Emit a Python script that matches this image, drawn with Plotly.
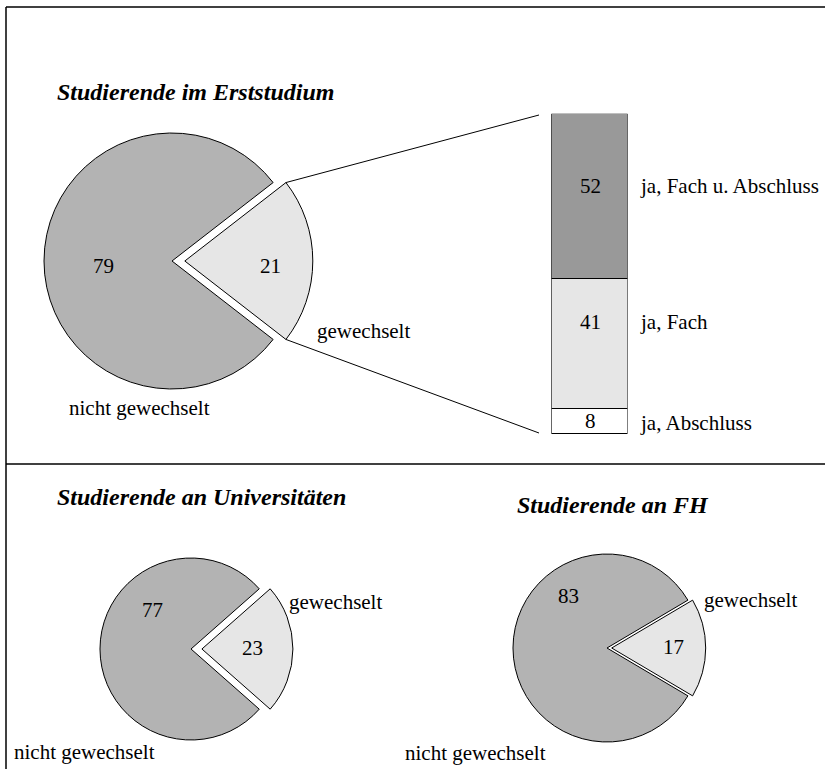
import math
import plotly.graph_objects as go

W, H = 825, 769

# ---- data ----
pie_labels = ["gewechselt", "nicht gewechselt"]
erst_values = [21, 79]
uni_values = [23, 77]
fh_values = [17, 83]

bar_labels = ["ja, Abschluss", "ja, Fach", "ja, Fach u. Abschluss"]
bar_values = [8, 41, 52]

titles = ["Studierende im Erststudium", "Studierende an Universitäten", "Studierende an FH"]

# ---- styles ----
FONT = "Liberation Serif"
C_BIG = "#b3b3b3"
C_SMALL = "#e6e6e6"
BAR_COLORS = ["#ffffff", "#e6e6e6", "#999999"]


def px(x):
    return x / W


def py(y):
    return 1 - y / H


def pie_domain(cx, cy, r, pull):
    half = r * (1 + pull)
    return dict(x=[px(cx - half), px(cx + half)], y=[py(cy + half), py(cy - half)])


def make_pie(values, cx, cy, r, pull):
    share = values[0] / sum(values)
    rot = 90 - share * 360 / 2
    return go.Pie(
        labels=pie_labels, values=values, sort=False, direction="clockwise",
        rotation=rot, pull=[pull, 0],
        marker=dict(colors=[C_SMALL, C_BIG], line=dict(color="black", width=1)),
        textinfo="none", showlegend=False, domain=pie_domain(cx, cy, r, pull),
        hoverinfo="label+value",
    )


fig = go.Figure()

# pies (center x, center y, radius, pull)
P_TOP = (172, 261, 128, 0.10)
P_UNI = (191, 649, 91, 0.12)
P_FH = (607, 648, 94, 0.05)
fig.add_trace(make_pie(erst_values, *P_TOP))
fig.add_trace(make_pie(uni_values, *P_UNI))
fig.add_trace(make_pie(fh_values, *P_FH))

# stacked bar
for lab, val, col in zip(bar_labels, bar_values, BAR_COLORS):
    fig.add_trace(go.Bar(
        x=[0], y=[val], name=lab, width=1,
        marker=dict(color=col, line=dict(color="black", width=1)),
        showlegend=False, hoverinfo="name+y",
    ))

BAR_L, BAR_R, BAR_T, BAR_B = 551.4, 627.5, 113.7, 434
fig.update_layout(
    barmode="stack",
    xaxis=dict(domain=[px(BAR_L), px(BAR_R)], range=[-0.5, 0.5], visible=False, fixedrange=True),
    yaxis=dict(domain=[py(BAR_B), py(BAR_T)], range=[0, sum(bar_values)], visible=False, fixedrange=True),
)

annotations = []


def txt(t, x, y, size=21, xanchor="center", **kw):
    annotations.append(dict(
        text=t, x=px(x), y=py(y), xref="paper", yref="paper", showarrow=False,
        xanchor=xanchor, yanchor="middle", font=dict(family=FONT, size=size, color="black"), **kw))


# titles
txt("<b><i>" + titles[0] + "</i></b>", 55, 92, size=24, xanchor="left")
txt("<b><i>" + titles[1] + "</i></b>", 55, 497, size=24, xanchor="left")
txt("<b><i>" + titles[2] + "</i></b>", 515, 505, size=24, xanchor="left")

# top pie labels
txt(str(erst_values[1]), 103, 266)
txt(str(erst_values[0]), 270, 266)
txt(pie_labels[0], 363, 331)
txt(pie_labels[1], 139, 408)

# uni pie labels
txt(str(uni_values[1]), 152, 610)
txt(str(uni_values[0]), 252, 648)
txt(pie_labels[0], 335, 602)
txt(pie_labels[1], 84, 752)

# fh pie labels
txt(str(fh_values[1]), 568, 596)
txt(str(fh_values[0]), 673, 647)
txt(pie_labels[0], 750, 600)
txt(pie_labels[1], 475, 753)

# bar value + category labels
bar_val_y = [421, 322, 186]
bar_lab_y = [423, 322, 186]
for lab, val, yv, yl in zip(bar_labels, bar_values, bar_val_y, bar_lab_y):
    txt(str(val), 590, yv)
    txt(lab, 638, yl, xanchor="left")

# frame lines and connector lines
shapes = []


def line(x0, y0, x1, y1, w=1.5):
    shapes.append(dict(type="line", xref="paper", yref="paper",
                       x0=px(x0), y0=py(y0), x1=px(x1), y1=py(y1),
                       line=dict(color="black", width=w)))


line(6, 7, W, 7)
line(6, 7, 6, H)
line(6, 464, W, 464)

cx, cy, r, pull = P_TOP
share = erst_values[0] / sum(erst_values)
half_ang = math.radians(share * 360 / 2)
vx = cx + pull * r
x_top = vx + r * math.cos(half_ang)
y_top = cy - r * math.sin(half_ang)
y_bot = cy + r * math.sin(half_ang)
line(x_top, y_top, 539, 115, w=1)
line(x_top, y_bot, 539, 433, w=1)

fig.update_layout(
    width=W, height=H, margin=dict(l=0, r=0, t=0, b=0),
    paper_bgcolor="white", plot_bgcolor="white",
    annotations=annotations, shapes=shapes,
)

fig.write_html(
    "out.html",
    config={"displayModeBar": False},
    post_script="document.body.style.margin='0px';document.body.style.overflow='hidden';",
)
